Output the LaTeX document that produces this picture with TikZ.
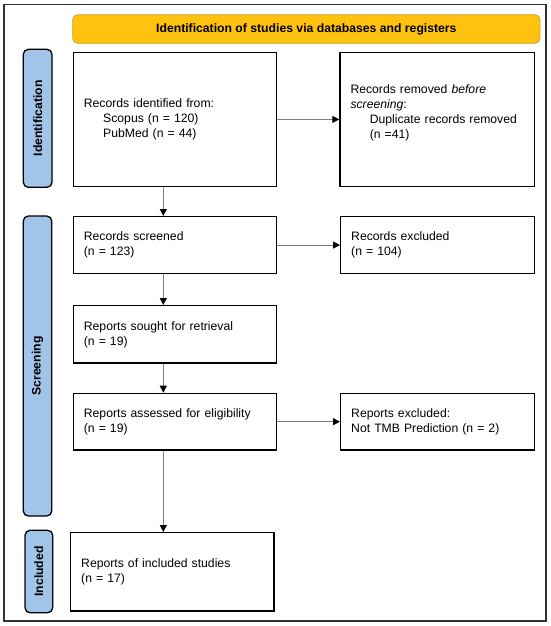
\documentclass[tikz,border=0pt]{standalone}
\usepackage{fontspec}
\setmainfont{Liberation Sans}
\usetikzlibrary{arrows.meta}
\definecolor{hdrfill}{HTML}{FFC20E}
\definecolor{hdrdraw}{HTML}{CFA12A}
\definecolor{labfill}{HTML}{A3C4E9}
\definecolor{framecol}{HTML}{333333}
\definecolor{arrcol}{HTML}{808080}
\begin{document}
\begin{tikzpicture}[x=1pt,y=-1pt,
  every node/.style={font=\fontsize{12.2}{15}\selectfont},
  box/.style={draw=black, line width=1.4pt, rectangle, anchor=north west,
    inner xsep=10.5pt, inner ysep=0pt, align=left, fill=white},
  sidelab/.style={draw=black, line width=1.3pt, fill=labfill, rounded corners=5pt,
    rotate=90, inner sep=0pt, font=\fontsize{12.2}{15}\selectfont\bfseries},
  hdr/.style={draw=hdrdraw, line width=0.8pt, fill=hdrfill, rounded corners=5pt,
    inner sep=0pt, font=\fontsize{12.2}{15}\selectfont\bfseries},
  arr/.style={draw=arrcol, line width=1pt, -{Triangle[length=7pt,width=7pt,color=black,fill=black]}}
]
\useasboundingbox (0,0) rectangle (550,626);
\draw[framecol, line width=1.3pt] (4,4.7) rectangle (546,621);

\node[hdr, minimum width=467.3pt, minimum height=28.6pt] (hdr) at (306.35,29)
  {Identification of studies via databases and registers};

\node[sidelab, minimum width=138pt, minimum height=28.7pt] (labid) at (37.65,118.3) {Identification};
\node[sidelab, minimum width=300pt, minimum height=28.4pt] (labscr) at (37.5,366) {Screening};
\node[sidelab, minimum width=82.4pt, minimum height=27.7pt] (labinc) at (38.85,571.5) {Included};

\node[box, text width=182.3pt, minimum height=134pt] (b1) at (72.7,51.7)
  {Records identified from:\\\hspace*{19.3pt}Scopus (n = 120)\\\hspace*{19.3pt}PubMed (n = 44)};
\node[box, text width=173.7pt, minimum height=134pt] (b2) at (339.3,51.7)
  {Records removed \textit{before}\\\textit{screening}:\\\hspace*{19.3pt}Duplicate records removed\\\hspace*{19.3pt}(n =41)\\\mbox{}};
\node[box, text width=182.3pt, minimum height=56.7pt] (b3) at (72.7,216)
  {Records screened\\(n = 123)};
\node[box, text width=173pt, minimum height=56.7pt] (b6) at (340,216)
  {Records excluded\\(n = 104)};
\node[box, text width=182.3pt, minimum height=57.3pt] (b4) at (72.7,305)
  {Reports sought for retrieval\\(n = 19)};
\node[box, text width=182.3pt, minimum height=56.6pt] (b5) at (72.7,392.7)
  {Reports assessed for eligibility\\(n = 19)};
\node[box, text width=173pt, minimum height=56.6pt] (b7) at (340,392.7)
  {Reports excluded:\\Not TMB Prediction (n = 2)};
\node[box, text width=182.3pt, minimum height=78.3pt] (b8) at (70,532)
  {Reports of included studies\\(n = 17)};

\coordinate (ax) at (163.3,0);
\draw[arr] (b1.east) -- (b2.west);
\draw[arr] (b3.east) -- (b6.west);
\draw[arr] (b5.east) -- (b7.west);
\draw[arr] (b1.south -| ax) -- (b3.north -| ax);
\draw[arr] (b3.south -| ax) -- (b4.north -| ax);
\draw[arr] (b4.south -| ax) -- (b5.north -| ax);
\draw[arr] (b5.south -| ax) -- (b8.north -| ax);
\end{tikzpicture}
\end{document}
